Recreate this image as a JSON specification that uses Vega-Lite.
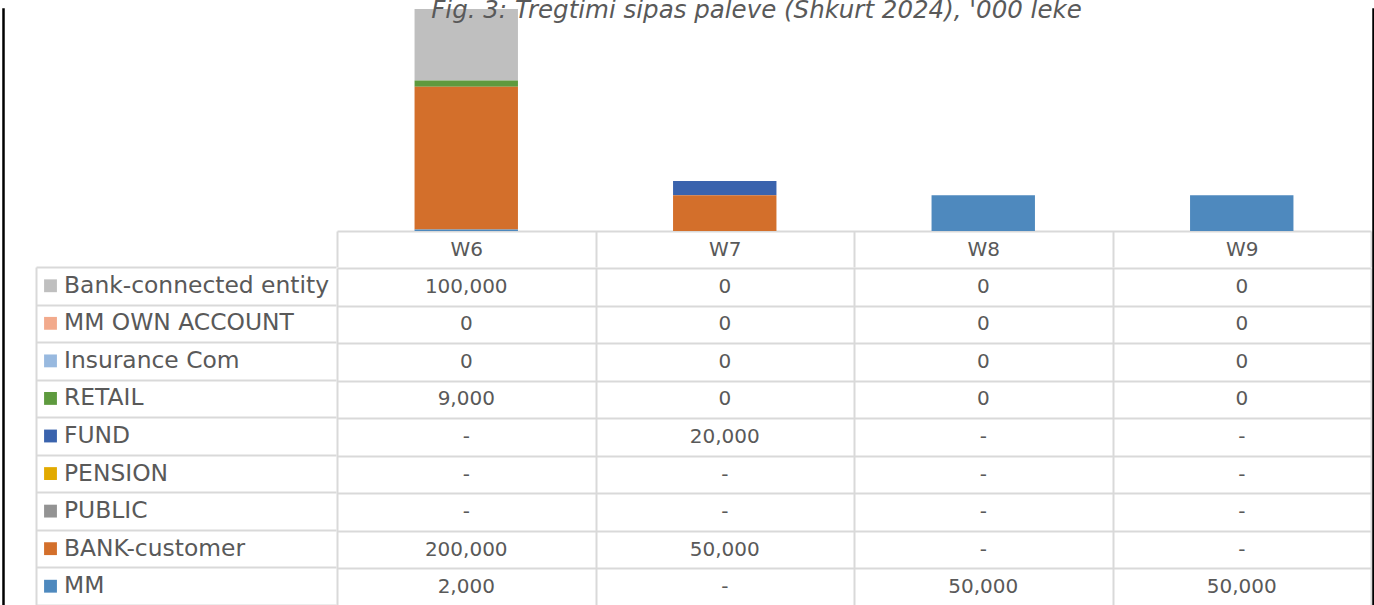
{
  "$schema": "https://vega.github.io/schema/vega-lite/v6.json",
  "padding": {"left": 2, "top": -3, "right": 0, "bottom": 0},
  "background": "white",
  "title": {
    "text": "Fig. 3: Tregtimi sipas paleve (Shkurt 2024), '000 leke",
    "font": "DejaVu Sans",
    "fontSize": 24.5,
    "fontStyle": "italic",
    "fontWeight": "normal",
    "color": "#595959",
    "anchor": "middle",
    "offset": -15,
    "dx": 68
  },
  "config": {"view": {"stroke": null}, "font": "DejaVu Sans"},
  "datasets": {
    "d": [
      {"week": "W6", "series": "Bank-connected entity", "value": 100000},
      {"week": "W7", "series": "Bank-connected entity", "value": 0},
      {"week": "W8", "series": "Bank-connected entity", "value": 0},
      {"week": "W9", "series": "Bank-connected entity", "value": 0},
      {"week": "W6", "series": "MM OWN ACCOUNT", "value": 0},
      {"week": "W7", "series": "MM OWN ACCOUNT", "value": 0},
      {"week": "W8", "series": "MM OWN ACCOUNT", "value": 0},
      {"week": "W9", "series": "MM OWN ACCOUNT", "value": 0},
      {"week": "W6", "series": "Insurance Com", "value": 0},
      {"week": "W7", "series": "Insurance Com", "value": 0},
      {"week": "W8", "series": "Insurance Com", "value": 0},
      {"week": "W9", "series": "Insurance Com", "value": 0},
      {"week": "W6", "series": "RETAIL", "value": 9000},
      {"week": "W7", "series": "RETAIL", "value": 0},
      {"week": "W8", "series": "RETAIL", "value": 0},
      {"week": "W9", "series": "RETAIL", "value": 0},
      {"week": "W6", "series": "FUND", "value": null},
      {"week": "W7", "series": "FUND", "value": 20000},
      {"week": "W8", "series": "FUND", "value": null},
      {"week": "W9", "series": "FUND", "value": null},
      {"week": "W6", "series": "PENSION", "value": null},
      {"week": "W7", "series": "PENSION", "value": null},
      {"week": "W8", "series": "PENSION", "value": null},
      {"week": "W9", "series": "PENSION", "value": null},
      {"week": "W6", "series": "PUBLIC", "value": null},
      {"week": "W7", "series": "PUBLIC", "value": null},
      {"week": "W8", "series": "PUBLIC", "value": null},
      {"week": "W9", "series": "PUBLIC", "value": null},
      {"week": "W6", "series": "BANK-customer", "value": 200000},
      {"week": "W7", "series": "BANK-customer", "value": 50000},
      {"week": "W8", "series": "BANK-customer", "value": null},
      {"week": "W9", "series": "BANK-customer", "value": null},
      {"week": "W6", "series": "MM", "value": 2000},
      {"week": "W7", "series": "MM", "value": null},
      {"week": "W8", "series": "MM", "value": 50000},
      {"week": "W9", "series": "MM", "value": 50000}
    ]
  },
  "spacing": 0,
  "hconcat": [
    {
      "data": {"values": []},
      "mark": "point",
      "width": 1,
      "height": 600,
      "view": {"stroke": "#000000", "strokeWidth": 1.5}
    },
    {
      "data": {"values": []},
      "mark": "point",
      "width": 31,
      "height": 1
    },
    {
      "spacing": 0,
      "vconcat": [
        {
          "data": {"values": []},
          "mark": "point",
          "width": 300,
          "height": 258
        },
        {
          "data": {"name": "d"},
          "transform": [{"filter": "datum.week === 'W6'"}],
          "width": 300,
          "height": 338,
          "encoding": {
            "y": {
              "field": "series",
              "type": "nominal",
              "sort": ["Bank-connected entity", "MM OWN ACCOUNT", "Insurance Com", "RETAIL", "FUND", "PENSION", "PUBLIC", "BANK-customer", "MM"],
              "scale": {"paddingInner": 0, "paddingOuter": 0},
              "axis": {
                "title": null, "labels": false, "ticks": false,
                "domain": true, "domainColor": "#d9d9d9", "domainWidth": 2,
                "grid": true, "gridColor": "#d9d9d9", "gridWidth": 2, "tickBand": "extent"
              }
            },
            "x": {"datum": 0, "type": "quantitative", "scale": {"domain": [0, 1]}, "axis": null}
          },
          "layer": [
            {
              "mark": {"type": "point", "shape": "square", "filled": true, "size": 165, "opacity": 1},
              "encoding": {
                "xOffset": {"value": 14.5},
                "color": {
                  "field": "series",
                  "type": "nominal",
                  "scale": {
                    "domain": ["MM", "BANK-customer", "PUBLIC", "PENSION", "FUND", "RETAIL", "Insurance Com", "MM OWN ACCOUNT", "Bank-connected entity"],
                    "range": ["#4E89BE", "#D36F2B", "#939393", "#E2AA00", "#3A63AD", "#5E9A3E", "#98B9DF", "#F2AA8C", "#BFBFBF"]
                  },
                  "legend": null
                }
              }
            },
            {
              "mark": {"type": "text", "align": "left", "baseline": "middle", "dx": 28, "fontSize": 23.4, "color": "#595959"},
              "encoding": {"text": {"field": "series"}}
            }
          ]
        }
      ]
    },
    {
      "spacing": 0,
      "vconcat": [
        {
          "data": {"name": "d"},
          "width": 1034,
          "height": 222,
          "transform": [
            {"calculate": "indexof(['MM', 'BANK-customer', 'PUBLIC', 'PENSION', 'FUND', 'RETAIL', 'Insurance Com', 'MM OWN ACCOUNT', 'Bank-connected entity'], datum.series)", "as": "stackRank"}
          ],
          "mark": {"type": "bar", "width": {"band": 0.4}},
          "encoding": {
            "x": {
              "field": "week",
              "type": "nominal",
              "scale": {"paddingInner": 0, "paddingOuter": 0},
              "axis": {
                "title": null, "orient": "bottom", "labelAngle": 0,
                "domainColor": "#d9d9d9", "domainWidth": 2,
                "tickColor": "#d9d9d9", "tickWidth": 2, "tickSize": 36, "tickBand": "extent",
                "labelFontSize": 20, "labelColor": "#595959", "labelFont": "DejaVu Sans",
                "labelBaseline": "middle", "labelPadding": -18
              }
            },
            "y": {"field": "value", "type": "quantitative", "stack": "zero", "scale": {"domain": [0, 311000]}, "axis": null},
            "order": {"field": "stackRank", "type": "quantitative", "sort": "ascending"},
            "color": {
              "field": "series",
              "type": "nominal",
              "scale": {
                "domain": ["MM", "BANK-customer", "PUBLIC", "PENSION", "FUND", "RETAIL", "Insurance Com", "MM OWN ACCOUNT", "Bank-connected entity"],
                "range": ["#4E89BE", "#D36F2B", "#939393", "#E2AA00", "#3A63AD", "#5E9A3E", "#98B9DF", "#F2AA8C", "#BFBFBF"]
              },
              "legend": null
            }
          }
        },
        {
          "data": {"name": "d"},
          "width": 1034,
          "height": 338,
          "transform": [{"calculate": "datum.value == null ? '-' : format(datum.value, ',')", "as": "txt"}],
          "mark": {"type": "text", "fontSize": 20, "color": "#595959", "baseline": "middle"},
          "encoding": {
            "x": {
              "field": "week", "type": "nominal",
              "scale": {"paddingInner": 0, "paddingOuter": 0},
              "axis": {"title": null, "labels": false, "ticks": false, "domain": false, "grid": true, "gridColor": "#d9d9d9", "gridWidth": 2, "tickBand": "extent"}
            },
            "y": {
              "field": "series", "type": "nominal",
              "sort": ["Bank-connected entity", "MM OWN ACCOUNT", "Insurance Com", "RETAIL", "FUND", "PENSION", "PUBLIC", "BANK-customer", "MM"],
              "scale": {"paddingInner": 0, "paddingOuter": 0},
              "axis": {"title": null, "labels": false, "ticks": false, "domain": false, "grid": true, "gridColor": "#d9d9d9", "gridWidth": 2, "tickBand": "extent"}
            },
            "text": {"field": "txt"}
          }
        }
      ]
    },
    {
      "data": {"values": []},
      "mark": "point",
      "width": 1,
      "height": 600,
      "view": {"stroke": "#000000", "strokeWidth": 1.5}
    }
  ]
}
